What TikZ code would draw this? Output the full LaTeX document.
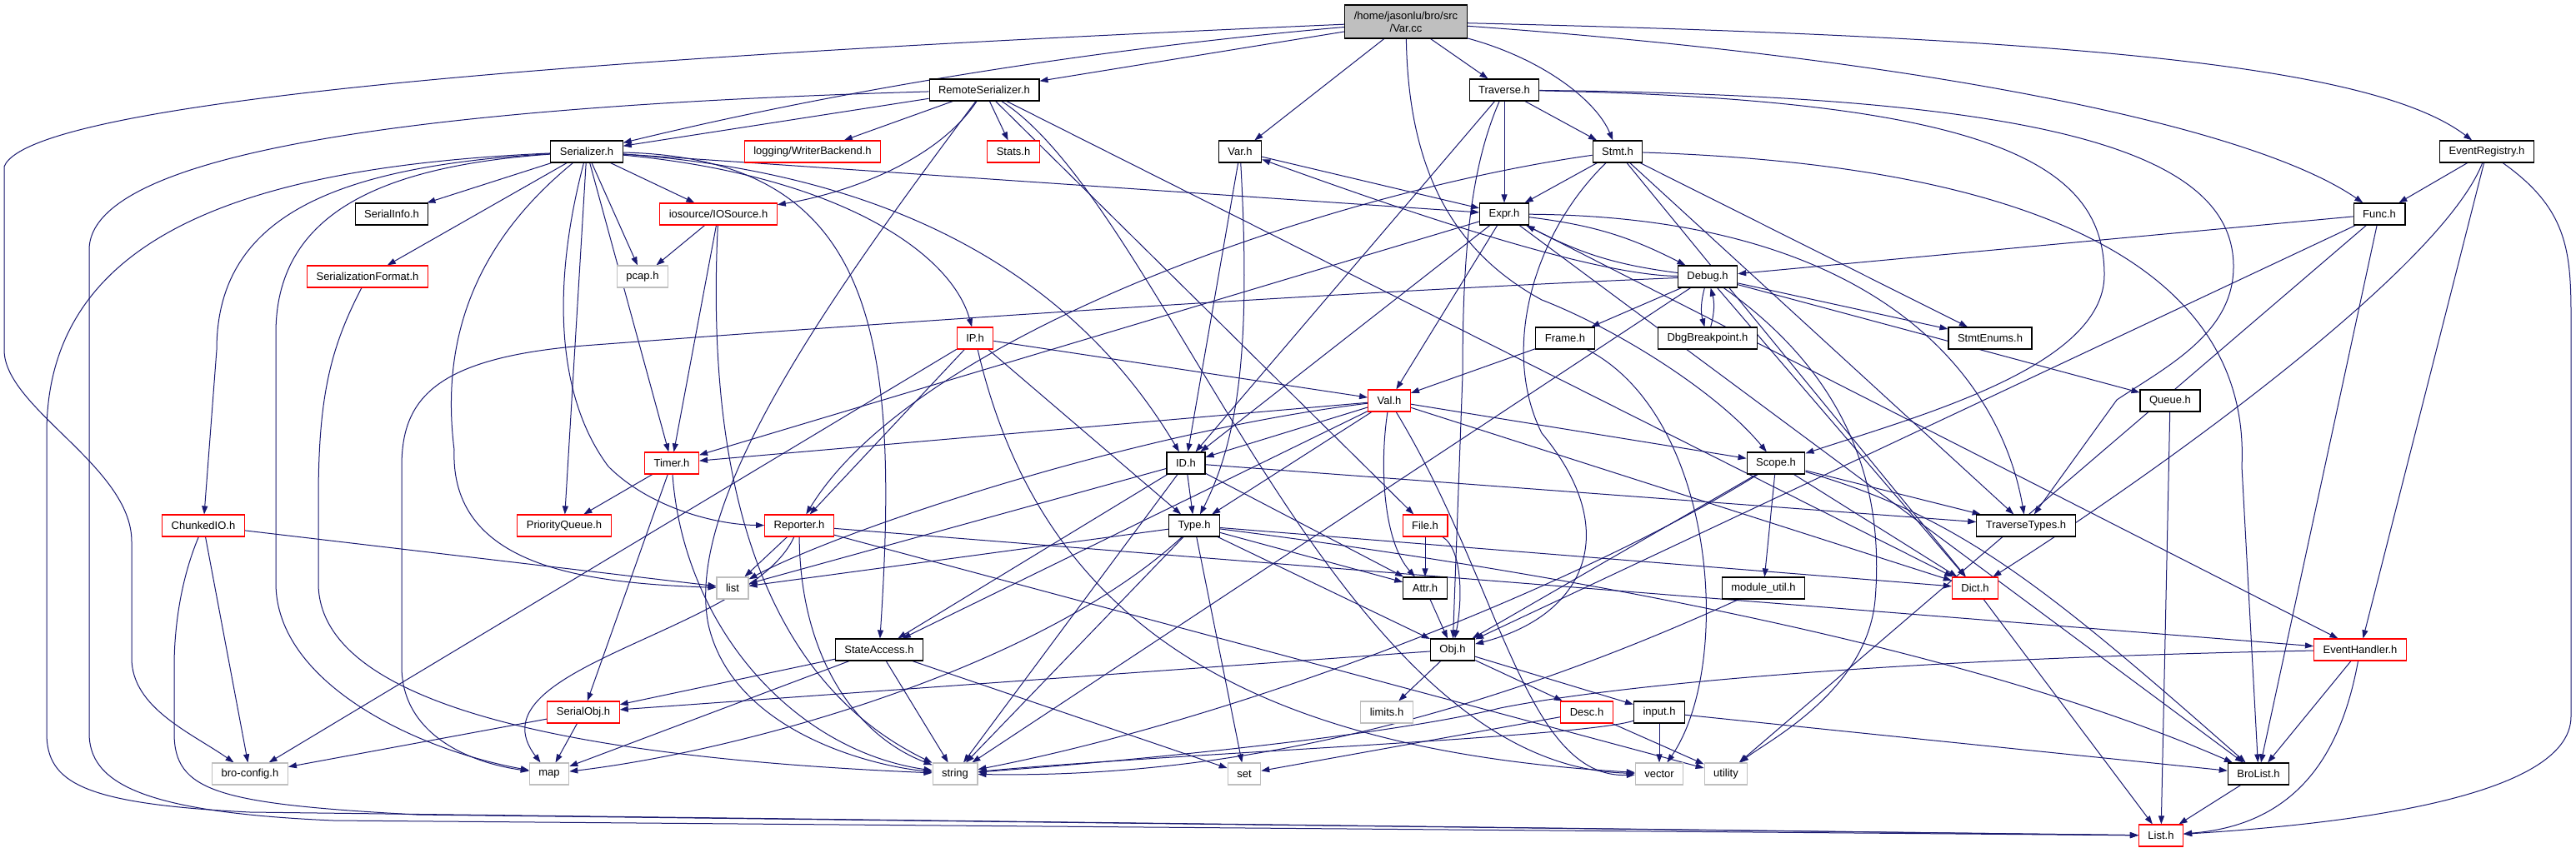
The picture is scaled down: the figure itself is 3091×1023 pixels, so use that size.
\documentclass[tikz,border=0pt]{standalone}
\usepackage{fontspec}
\setmainfont{Liberation Sans}
\usepackage{tikz}
\usetikzlibrary{arrows.meta}
\pgfdeclarelayer{bg}
\pgfsetlayers{bg,main}
\definecolor{edgeblue}{HTML}{191970}
\definecolor{sysgray}{HTML}{BFBFBF}

\begin{document}
\begin{tikzpicture}[x=1pt,y=-1pt,
  hdr/.style={draw=black,line width=1.2pt,fill=white,inner xsep=11pt,inner ysep=0pt,
    minimum height=26pt,font=\fontsize{13}{15}\selectfont},
  hdrred/.style={hdr,draw=red},
  hdrsys/.style={hdr,draw=sysgray},
  inc/.style={color=edgeblue,line width=1pt,-{Triangle[length=10pt,width=7pt]}}]
\useasboundingbox (0,0) rectangle (3091,1023);

\node[hdr,fill=sysgray,align=center,minimum height=40pt] (varcc) at (1687,26) {/home/jasonlu/bro/src\\/Var.cc};
\node[hdr] (remoteser) at (1181,108) {RemoteSerializer.h};
\node[hdr] (traverse) at (1805,108) {Traverse.h};
\node[hdr] (serializer) at (704,182) {Serializer.h};
\node[hdrred] (writerbe) at (975,182) {logging/WriterBackend.h};
\node[hdrred] (stats) at (1216,182) {Stats.h};
\node[hdr] (varh) at (1488,182) {Var.h};
\node[hdr] (stmt) at (1941,182) {Stmt.h};
\node[hdr] (evreg) at (2984,182) {EventRegistry.h};
\node[hdr] (serialinfo) at (470,257) {SerialInfo.h};
\node[hdrred] (iosrc) at (862,257) {iosource/IOSource.h};
\node[hdr] (expr) at (1805,257) {Expr.h};
\node[hdr] (func) at (2855,257) {Func.h};
\node[hdrred] (serfmt) at (441,332) {SerializationFormat.h};
\node[hdrsys] (pcap) at (771,332) {pcap.h};
\node[hdr] (debug) at (2049,332) {Debug.h};
\node[hdrred] (iph) at (1170,406) {IP.h};
\node[hdr] (frame) at (1878,406) {Frame.h};
\node[hdr] (dbgbp) at (2049,406) {DbgBreakpoint.h};
\node[hdr] (stmtenums) at (2388,406) {StmtEnums.h};
\node[hdrred] (valh) at (1667,481) {Val.h};
\node[hdr] (queue) at (2604,481) {Queue.h};
\node[hdrred] (timer) at (806,556) {Timer.h};
\node[hdr] (idh) at (1423,556) {ID.h};
\node[hdr] (scope) at (2131,556) {Scope.h};
\node[hdrred] (chunkedio) at (244,631) {ChunkedIO.h};
\node[hdrred] (pq) at (677,631) {PriorityQueue.h};
\node[hdrred] (reporter) at (959,631) {Reporter.h};
\node[hdr] (typeh) at (1433,631) {Type.h};
\node[hdrred] (fileh) at (1710,631) {File.h};
\node[hdr] (travtypes) at (2431,631) {TraverseTypes.h};
\node[hdrsys] (list) at (879,706) {list};
\node[hdr] (attr) at (1710,706) {Attr.h};
\node[hdr] (modutil) at (2116,706) {module\_util.h};
\node[hdrred] (dict) at (2370,706) {Dict.h};
\node[hdr] (stateacc) at (1055,780) {StateAccess.h};
\node[hdr] (obj) at (1743,780) {Obj.h};
\node[hdrred] (evhandler) at (2832,780) {EventHandler.h};
\node[hdrred] (serialobj) at (700,855) {SerialObj.h};
\node[hdrsys] (limits) at (1664,855) {limits.h};
\node[hdrred] (desc) at (1904,855) {Desc.h};
\node[hdr] (input) at (1991,855) {input.h};
\node[hdrsys] (broconfig) at (300,929) {bro-config.h};
\node[hdrsys] (map) at (659,929) {map};
\node[hdrsys] (string) at (1146,929) {string};
\node[hdrsys] (set) at (1493,929) {set};
\node[hdrsys] (vector) at (1991,929) {vector};
\node[hdrsys] (utility) at (2071,929) {utility};
\node[hdr] (brolist) at (2710,929) {BroList.h};
\node[hdrred] (listh) at (2593,1003) {List.h};

\begin{pgfonlayer}{bg}
\fill[white] (0,0) rectangle (3091,1023);
\path[inc] (varcc) edge (remoteser) edge (varh) edge (traverse);
\path[inc] (remoteser) edge (serializer) edge (writerbe) edge (stats) edge (fileh) edge (dict);
\path[inc] (traverse) edge (idh) edge (expr) edge (stmt);
\path[inc] (serializer) edge (serialinfo) edge (serfmt) edge (pcap) edge (iosrc) edge (pq) edge (timer) edge (expr);
\path[inc] (varh) edge (expr) edge (idh);
\path[inc] (stmt) edge (expr) edge (stmtenums) edge (travtypes) edge (dict);
\path[inc] (expr) edge (valh) edge (timer) edge (idh) edge (evhandler) edge (brolist);
\path[inc] (debug) edge (frame) edge (stmtenums) edge (queue) edge (string) edge (dict);
\path[inc] (frame) edge (valh);
\path[inc] (func) edge (debug) edge (obj) edge (utility) edge (brolist);
\path[inc] (evreg) edge (func) edge (evhandler);
\path[inc] (queue) edge (listh);
\path[inc] (valh) edge (timer) edge (idh) edge (typeh) edge (stateacc) edge (scope) edge (dict);
\path[inc] (scope) edge (travtypes) edge (obj) edge (modutil) edge (dict);
\path[inc] (idh) edge (typeh) edge (attr) edge (stateacc) edge (travtypes) edge (string) edge (list);
\path[inc] (typeh) edge (list) edge (string) edge (set) edge (obj) edge (attr) edge (dict);
\path[inc] (reporter) edge (list) edge (evhandler) edge (utility);
\path[inc] (timer) edge (pq) edge (serialobj);
\path[inc] (iosrc) edge (pcap) edge (timer);
\path[inc] (chunkedio) edge (broconfig) edge (list);
\path[inc] (iph) edge (valh) edge (broconfig) edge (reporter) edge (typeh);
\path[inc] (fileh) edge (attr);
\path[inc] (attr) edge (obj);
\path[inc] (stateacc) edge (serialobj) edge (map) edge (string) edge (set);
\path[inc] (obj) edge (serialobj) edge (limits) edge (desc) edge (input);
\path[inc] (desc) edge (set) edge (utility);
\path[inc] (input) edge (vector) edge (brolist);
\path[inc] (serialobj) edge (broconfig) edge (map);
\path[inc] (dict) edge (listh);
\path[inc] (evhandler) edge (brolist);
\path[inc] (brolist) edge (listh);
\path[inc] (expr) edge[bend left=10] (debug) (debug) edge[bend left=10] (expr);
\path[inc] (debug) edge[bend right=15] (dbgbp) (dbgbp) edge[bend right=15] (debug);

\draw[inc] (varcc) .. controls (900,60) and (40,110) .. (5,200) -- (5,420) .. controls (5,490) and (158,560) .. (158,650) -- (158,790) .. controls (158,850) and (230,880) .. (broconfig);
\draw[inc] (varcc) .. controls (1300,60) and (1000,110) .. (serializer);
\draw[inc] (varcc) .. controls (1850,70) and (1915,120) .. (stmt);
\draw[inc] (varcc) .. controls (1690,200) and (1740,300) .. (1850,360) .. controls (1940,395) and (2060,470) .. (scope);
\draw[inc] (varcc) .. controls (2500,45) and (2850,80) .. (evreg);
\draw[inc] (varcc) .. controls (2300,70) and (2700,150) .. (func);
\draw[inc] (remoteser) .. controls (600,125) and (107,170) .. (107,300) -- (107,880) .. controls (107,940) and (170,975) .. (400,985) -- (listh);
\draw[inc] (remoteser) .. controls (1120,200) and (1000,235) .. (iosrc);
\draw[inc] (remoteser) .. controls (1000,350) and (820,600) .. (850,750) .. controls (880,880) and (1050,920) .. (string);
\draw[inc] (remoteser) .. controls (1400,250) and (1600,920) .. (vector);
\draw[inc] (traverse) .. controls (1765,200) and (1755,300) .. (1755,450) -- (obj);
\draw[inc] (traverse) .. controls (2400,120) and (2525,200) .. (2525,330) .. controls (2525,440) and (2300,500) .. (scope);
\draw[inc] (traverse) .. controls (2450,115) and (2680,180) .. (2680,320) .. controls (2680,400) and (2600,440) .. (2540,480) -- (travtypes);
\draw[inc] (serializer) .. controls (300,200) and (56,280) .. (56,520) -- (56,880) .. controls (56,940) and (100,965) .. (300,975) -- (listh);
\draw[inc] (serializer) .. controls (400,200) and (260,260) .. (260,420) -- (chunkedio);
\draw[inc] (serializer) .. controls (450,200) and (331,260) .. (331,400) -- (331,700) .. controls (331,820) and (500,900) .. (map);
\draw[inc] (serializer) .. controls (560,300) and (530,420) .. (545,540) .. controls (540,680) and (700,700) .. (list);
\draw[inc] (serializer) .. controls (660,350) and (670,480) .. (730,560) .. controls (780,610) and (860,630) .. (reporter);
\draw[inc] (serializer) .. controls (1050,190) and (1080,400) .. (stateacc);
\draw[inc] (serializer) .. controls (1000,210) and (1140,300) .. (iph);
\draw[inc] (serializer) .. controls (1100,210) and (1300,350) .. (idh);
\draw[inc] (varh) .. controls (1500,400) and (1490,520) .. (typeh);
\draw[inc] (stmt) .. controls (1600,230) and (1100,400) .. (reporter);
\draw[inc] (stmt) .. controls (1840,280) and (1800,420) .. (1850,520) .. controls (1950,640) and (1900,740) .. (obj);
\draw[inc] (stmt) .. controls (2500,200) and (2700,350) .. (2690,560) -- (brolist);
\draw[inc] (expr) .. controls (2250,260) and (2400,450) .. (travtypes);
\draw[inc] (debug) .. controls (1900,330) and (1650,240) .. (varh);
\draw[inc] (debug) .. controls (1500,355) and (900,400) .. (700,415) .. controls (520,430) and (482,480) .. (482,560) -- (482,800) .. controls (482,880) and (560,915) .. (map);
\draw[inc] (debug) .. controls (2230,460) and (2260,600) .. (2250,720) .. controls (2240,830) and (2120,890) .. (utility);
\draw[inc] (frame) .. controls (2060,500) and (2080,800) .. (vector);
\draw[inc] (evreg) .. controls (2930,320) and (2600,560) .. (dict);
\draw[inc] (evreg) .. controls (3080,250) and (3085,300) .. (3085,380) -- (3085,860) .. controls (3085,960) and (2800,990) .. (listh);
\draw[inc] (valh) .. controls (1350,520) and (1000,640) .. (list);
\draw[inc] (valh) .. controls (1655,560) and (1660,650) .. (attr);
\draw[inc] (valh) .. controls (1800,700) and (1830,935) .. (vector);
\draw[inc] (scope) .. controls (2350,620) and (2450,700) .. (brolist);
\draw[inc] (scope) .. controls (1900,700) and (1500,860) .. (string);
\draw[inc] (typeh) .. controls (1250,800) and (900,900) .. (map);
\draw[inc] (typeh) .. controls (1700,665) and (2300,750) .. (brolist);
\draw[inc] (reporter) .. controls (900,760) and (560,800) .. (map);
\draw[inc] (reporter) .. controls (960,780) and (1020,880) .. (string);
\draw[inc] (timer) .. controls (820,750) and (950,900) .. (string);
\draw[inc] (iosrc) .. controls (850,500) and (880,800) .. (string);
\draw[inc] (chunkedio) .. controls (215,700) and (209,760) .. (209,800) -- (209,880) .. controls (209,950) and (260,965) .. (500,978) -- (listh);
\draw[inc] (iph) .. controls (1250,750) and (1500,900) .. (vector);
\draw[inc] (fileh) .. controls (1755,660) and (1755,720) .. (obj);
\draw[inc] (input) .. controls (1900,885) and (1400,905) .. (string);
\draw[inc] (modutil) .. controls (1800,850) and (1500,935) .. (string);
\draw[inc] (evhandler) .. controls (2300,790) and (1950,820) .. (1800,850) .. controls (1680,880) and (1400,910) .. (string);
\draw[inc] (evhandler) .. controls (2810,900) and (2760,990) .. (listh);
\draw[inc] (serfmt) .. controls (395,420) and (382,480) .. (382,600) -- (382,700) .. controls (382,850) and (700,910) .. (string);
\end{pgfonlayer}
\end{tikzpicture}
\end{document}
